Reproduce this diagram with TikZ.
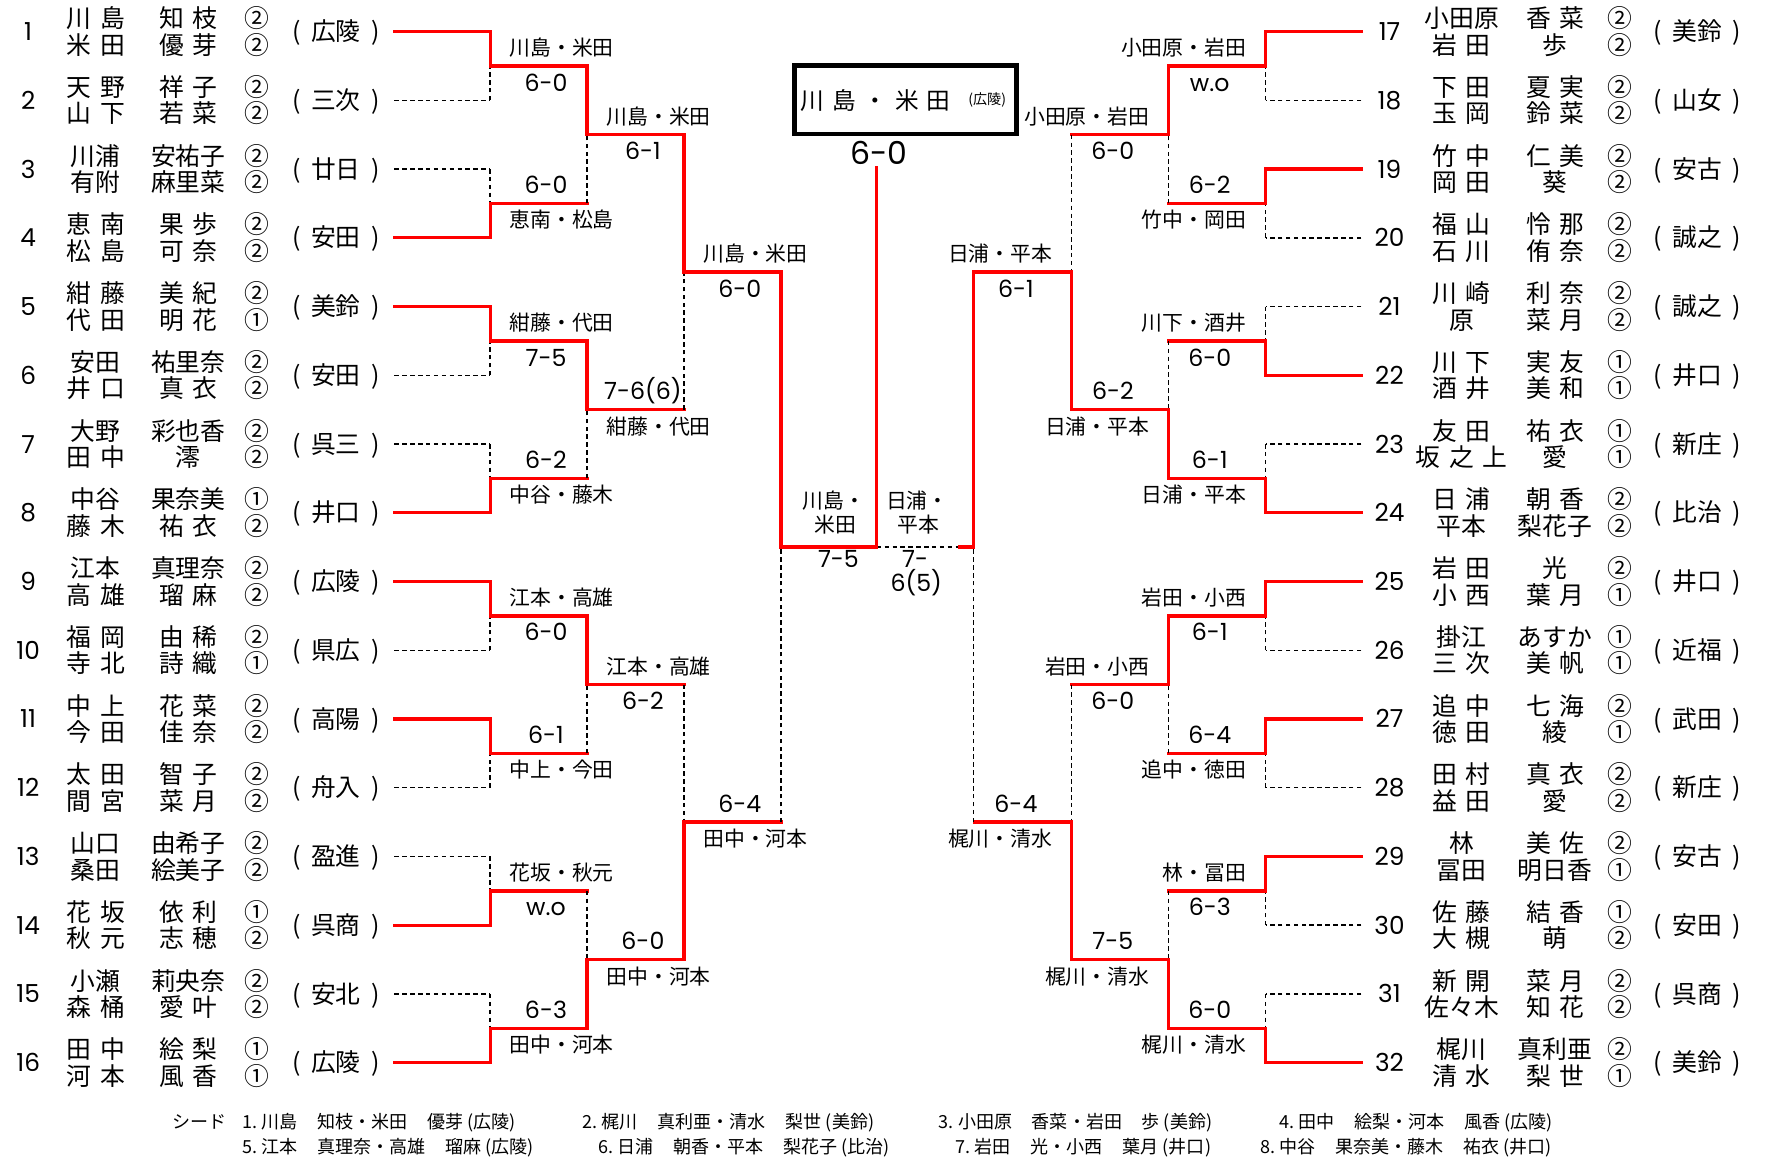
\documentclass[tikz,border=0pt]{standalone}
\usepackage{fontspec}
\setmainfont{Noto Sans CJK JP}
\newfontfamily\digits{Poppins}
\newcommand\school[1]{(\hspace{.42em}#1\hspace{.42em})}
\newcommand\gap{\hspace{1.1em}}
\tikzset{
  win/.style={red, line width=3pt, line cap=rect},
  lose/.style={black, line width=1.3pt, dash pattern=on 4pt off 3pt},
  ent/.style={inner sep=0pt, anchor=base, yshift=-8.1pt, font={\fontsize{22}{24}\selectfont\spaceskip=.35em\relax}},
  num/.style={inner sep=0pt, anchor=base, yshift=-8pt, font={\digits\fontsize{22}{24}\selectfont}},
  lab/.style={inner sep=0pt, anchor=base, yshift=-6.8pt, font={\fontsize{18.5}{20}\selectfont}},
  res/.style={inner sep=0pt, anchor=base, yshift=-7.3pt, font={\digits\fontsize{21}{23}\selectfont}},
  foot/.style={inner sep=0pt, anchor=base west, yshift=-5.8pt, font={\fontsize{16}{18}\selectfont}},
}
\begin{document}
\begin{tikzpicture}[x=1pt, y=-1pt]
  \useasboundingbox (0,0) rectangle (1568,1027);
  % left entries
  \foreach \i/\sa/\ga/\ca/\sb/\gb/\cb/\sch in {
    1/川 島/知 枝/②/米 田/優 芽/②/広陵,
    2/天 野/祥 子/②/山 下/若 菜/②/三次,
    3/川浦/安祐子/②/有附/麻里菜/②/廿日,
    4/恵 南/果 歩/②/松 島/可 奈/②/安田,
    5/紺 藤/美 紀/②/代 田/明 花/①/美鈴,
    6/安田/祐里奈/②/井 口/真 衣/②/安田,
    7/大野/彩也香/②/田 中/澪/②/呉三,
    8/中谷/果奈美/①/藤 木/祐 衣/②/井口,
    9/江本/真理奈/②/高 雄/瑠 麻/②/広陵,
    10/福 岡/由 稀/②/寺 北/詩 織/①/県広,
    11/中 上/花 菜/②/今 田/佳 奈/②/高陽,
    12/太 田/智 子/②/間 宮/菜 月/②/舟入,
    13/山口/由希子/②/桑田/絵美子/②/盈進,
    14/花 坂/依 利/①/秋 元/志 穂/②/呉商,
    15/小瀬/莉央奈/②/森 桶/愛 叶/②/安北,
    16/田 中/絵 梨/①/河 本/風 香/①/広陵}{
    \pgfmathsetmacro\y{28+61*(\i-1)}
    \node[num] (no\i) at (25,\y) {\i};
    \node[ent] (sa\i) at (85,\y-11.5) {\sa};
    \node[ent] (ga\i) at (167,\y-11.5) {\ga};
    \node[ent] (ca\i) at (228,\y-11.5) {\ca};
    \node[ent] (sb\i) at (85,\y+12) {\sb};
    \node[ent] (gb\i) at (167,\y+12) {\gb};
    \node[ent] (cb\i) at (228,\y+12) {\cb};
    \node[ent] (hs\i) at (298,\y) {\school{\sch}};
  }
  % right entries
  \foreach \i/\sa/\ga/\ca/\sb/\gb/\cb/\sch in {
    17/小田原/香 菜/②/岩 田/歩/②/美鈴,
    18/下 田/夏 実/②/玉 岡/鈴 菜/②/山女,
    19/竹 中/仁 美/②/岡 田/葵/②/安古,
    20/福 山/怜 那/②/石 川/侑 奈/②/誠之,
    21/川 崎/利 奈/②/原/菜 月/②/誠之,
    22/川 下/実 友/①/酒 井/美 和/①/井口,
    23/友 田/祐 衣/①/坂 之 上/愛/①/新庄,
    24/日 浦/朝 香/②/平本/梨花子/②/比治,
    25/岩 田/光/②/小 西/葉 月/①/井口,
    26/掛江/あすか/①/三 次/美 帆/①/近福,
    27/追 中/七 海/②/徳 田/綾/①/武田,
    28/田 村/真 衣/②/益 田/愛/②/新庄,
    29/林/美 佐/②/冨田/明日香/①/安古,
    30/佐 藤/結 香/①/大 槻/萌/②/安田,
    31/新 開/菜 月/②/佐々木/知 花/②/呉商,
    32/梶川/真利亜/②/清 水/梨 世/①/美鈴}{
    \pgfmathsetmacro\y{28+61*(\i-17)}
    \node[num] (no\i) at (1233,\y) {\i};
    \node[ent] (sa\i) at (1297,\y-11.5) {\sa};
    \node[ent] (ga\i) at (1380,\y-11.5) {\ga};
    \node[ent] (ca\i) at (1437,\y-11.5) {\ca};
    \node[ent] (sb\i) at (1297,\y+12) {\sb};
    \node[ent] (gb\i) at (1380,\y+12) {\gb};
    \node[ent] (cb\i) at (1437,\y+12) {\cb};
    \node[ent] (hs\i) at (1506,\y) {\school{\sch}};
  }
  % bracket: side/round/match/top/bottom/winner/score
  \foreach \sd/\rd/\k/\ta/\tb/\nm/\sco in {
    L/1/1/win/lose/川島・米田/6-0, L/1/2/lose/win/恵南・松島/6-0,
    L/1/3/win/lose/紺藤・代田/7-5, L/1/4/lose/win/中谷・藤木/6-2,
    L/1/5/win/lose/江本・高雄/6-0, L/1/6/win/lose/中上・今田/6-1,
    L/1/7/lose/win/花坂・秋元/w.o, L/1/8/lose/win/田中・河本/6-3,
    L/2/1/win/lose/川島・米田/6-1, L/2/2/win/lose/紺藤・代田/7-6(6),
    L/2/3/win/lose/江本・高雄/6-2, L/2/4/lose/win/田中・河本/6-0,
    L/3/1/win/lose/川島・米田/6-0, L/3/2/lose/win/田中・河本/6-4,
    R/1/1/win/lose/小田原・岩田/w.o, R/1/2/win/lose/竹中・岡田/6-2,
    R/1/3/lose/win/川下・酒井/6-0, R/1/4/lose/win/日浦・平本/6-1,
    R/1/5/win/lose/岩田・小西/6-1, R/1/6/win/lose/追中・徳田/6-4,
    R/1/7/win/lose/林・冨田/6-3, R/1/8/lose/win/梶川・清水/6-0,
    R/2/1/win/lose/小田原・岩田/6-0, R/2/2/lose/win/日浦・平本/6-2,
    R/2/3/win/lose/岩田・小西/6-0, R/2/4/lose/win/梶川・清水/7-5,
    R/3/1/lose/win/日浦・平本/6-1, R/3/2/lose/win/梶川・清水/6-4}{
    \if\sd L\def\dir{1}\def\an{base west}\else\def\dir{-1}\def\an{base east}\fi
    \pgfmathsetmacro\pp{61*2^(\rd-1)}
    \pgfmathsetmacro\ya{28+30.5*(2^(\rd-1)-1)+2*(\k-1)*\pp}
    \pgfmathsetmacro\yb{\ya+\pp}
    \pgfmathsetmacro\ym{\ya+\pp/2}
    \pgfmathsetmacro\xv{779-(\dir)*(344-86*(\rd-1))}
    \pgfmathsetmacro\xo{\xv+(\dir)*86}
    \pgfmathsetmacro\xs{779-(\dir)*429}
    \ifodd\k\relax \def\yn{\ym-16}\def\ys{\ym+15}\else \def\yn{\ym+15}\def\ys{\ym-16}\fi
    \coordinate (\sd\rd-\k a) at (\xv,\ya);
    \coordinate (\sd\rd-\k b) at (\xv,\yb);
    \coordinate (\sd\rd-\k m) at (\xv,\ym);
    \coordinate (\sd\rd-\k o) at (\xo,\ym);
    \ifnum\rd=1
      \coordinate (\sd\rd-\k sa) at (\xs,\ya);
      \coordinate (\sd\rd-\k sb) at (\xs,\yb);
      \draw[\ta] (\sd\rd-\k sa) -- (\sd\rd-\k a);
      \draw[\tb] (\sd\rd-\k sb) -- (\sd\rd-\k b);
    \fi
    \draw[\ta] (\sd\rd-\k a) -- (\sd\rd-\k m);
    \draw[\tb] (\sd\rd-\k b) -- (\sd\rd-\k m);
    \draw[win] (\sd\rd-\k m) -- (\sd\rd-\k o);
    \node[lab, anchor=\an] (\sd\rd-\k n) at ({\xv+(\dir)*17},{\yn}) {\nm};
    \node[res] (\sd\rd-\k s) at ({\xv+(\dir)*49.5},{\ys}) {\sco};
  }
  % semifinals and final
  \coordinate (LSa) at (693,241.5);
  \coordinate (LSb) at (693,729.5);
  \coordinate (LSm) at (693,485.5);
  \coordinate (RSa) at (864,241.5);
  \coordinate (RSb) at (864,729.5);
  \coordinate (RSm) at (864,485.5);
  \coordinate (RSr) at (852,485.5);
  \coordinate (Fm) at (778,485.5);
  \coordinate (Ft) at (778,149);
  \draw[lose] (LSb) -- (LSm);
  \draw[lose] (RSb) -- (RSm);
  \draw[lose] (Fm) -- (RSr);
  \draw[win] (RSa) -- (RSm) -- (RSr);
  \draw[win] (LSa) -- (LSm) -- (Fm) -- (Ft);
  \node[lab] (sfL1) at (740,444) {川島・};
  \node[lab] (sfL2) at (741,466) {米田};
  \node[res] (sfLs) at (744,496) {7-5};
  \node[lab] (sfR1) at (814,444) {日浦・};
  \node[lab] (sfR2) at (815,466) {平本};
  \node[res] (sfRs1) at (812,496) {7-};
  \node[res] (sfRs2) at (813,518) {6(5)};
  % champion box
  \node[draw, line width=4pt, minimum width=197pt, minimum height=61pt, inner sep=0pt] (champ) at (803.5,88.5) {};
  \node[inner sep=0pt, anchor=base, yshift=-7.8pt, font={\fontsize{21}{23}\selectfont\spaceskip=.33em\relax}] (chn) at (777,89.5) {川 島 ・ 米 田};
  \node[inner sep=0pt, anchor=base, yshift=-4.6pt, font={\fontsize{12.5}{14}\selectfont}] (chs) at (876,88) {(広陵)};
  \node[inner sep=0pt, anchor=base, yshift=-9.8pt, font={\digits\fontsize{28}{30}\selectfont}] (chr) at (780,136) {6-0};
  % seeds
  \node[foot] (f0) at (153,996) {シード};
  \node[foot] (f1) at (215,996) {1.\ 川島\gap 知枝・米田\gap 優芽 (広陵)};
  \node[foot] (f2) at (517,996) {2.\ 梶川\gap 真利亜・清水\gap 梨世 (美鈴)};
  \node[foot] (f3) at (833,996) {3.\ 小田原\gap 香菜・岩田\gap 歩 (美鈴)};
  \node[foot] (f4) at (1135,996) {4.\ 田中\gap 絵梨・河本\gap 風香 (広陵)};
  \node[foot] (f5) at (215,1018) {5.\ 江本\gap 真理奈・高雄\gap 瑠麻 (広陵)};
  \node[foot] (f6) at (531,1018) {6.\ 日浦\gap 朝香・平本\gap 梨花子 (比治)};
  \node[foot] (f7) at (848,1018) {7.\ 岩田\gap 光・小西\gap 葉月 (井口)};
  \node[foot] (f8) at (1118,1018) {8.\ 中谷\gap 果奈美・藤木\gap 祐衣 (井口)};
\end{tikzpicture}
\end{document}
